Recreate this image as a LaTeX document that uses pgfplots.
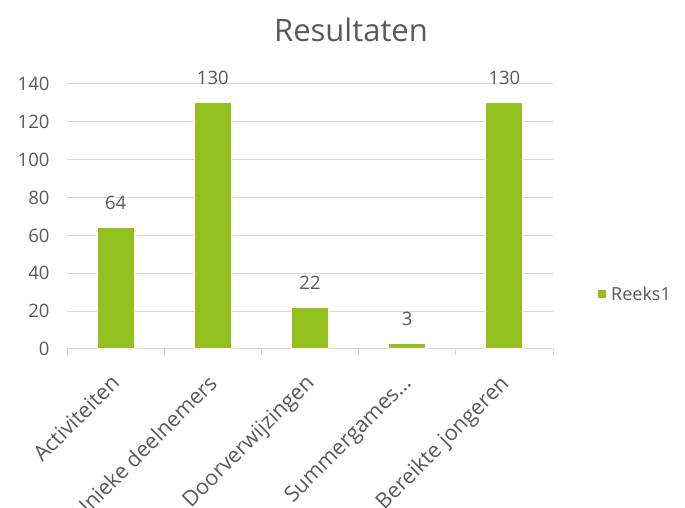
\documentclass[border=0pt]{standalone}
\usepackage{fontspec}
\setmainfont{Open Sans}
\usepackage{pgfplots}
\pgfplotsset{compat=1.18}
\definecolor{barg}{HTML}{93C01F}
\definecolor{txt}{HTML}{595959}
\definecolor{grd}{HTML}{D9D9D9}
\begin{document}
\begin{tikzpicture}[x=1pt,y=1pt]
\path[use as bounding box] (0,0) rectangle (685,508);
\node[text=txt, font=\fontsize{31}{36}\selectfont] at (351,478) {Resultaten};
\begin{axis}[
 at={(67pt,159pt)}, anchor=south west,
 scale only axis, width=486pt, height=265pt,
 xmin=-0.5, xmax=4.5, ymin=0, ymax=140,
 ytick={0,20,...,140},
 xtick={0,...,4},
 xticklabels={Activiteiten, Unieke deelnemers, Doorverwijzingen, Summergames…, Bereikte jongeren},
 minor xtick={-0.5,0.5,...,4.5},
 major tick length=0pt,
 minor tick length=6pt,
 tick align=outside,
 minor tick style={grd, line width=1pt},
 axis x line*=bottom, axis y line*=left,
 x axis line style={grd, line width=1pt, -},
 y axis line style={draw=none},
 ymajorgrids, grid style={grd, line width=1pt},
 /pgf/number format/assume math mode=true,
 tick label style={text=txt, font=\fontsize{18.5}{22}\selectfont},
 yticklabel style={xshift=-14pt},
 xticklabel style={xshift=-6pt, yshift=-24pt, rotate=45, anchor=north east, inner sep=0pt, font=\fontsize{21.5}{24}\selectfont},
 legend style={draw=none, at={(1.0926,0.207)}, anchor=west, font=\fontsize{18}{22}\selectfont, text=txt, inner sep=0pt},
 legend image code/.code={\fill[barg, draw=none] (0pt,-4pt) rectangle (8pt,4pt); \path[draw=none, fill=none] (0pt,0pt) -- (11pt,0pt);},
 clip=false,
]
\addplot[ybar, fill=barg, draw=white, line width=1pt, bar width=37pt,
  nodes near coords, every node near coord/.append style={text=txt, font=\fontsize{18.5}{22}\selectfont, yshift=14pt}]
  coordinates {(0,64) (1,130) (2,22) (3,3) (4,130)};
\addlegendentry{Reeks1}
\end{axis}
\end{tikzpicture}
\end{document}
